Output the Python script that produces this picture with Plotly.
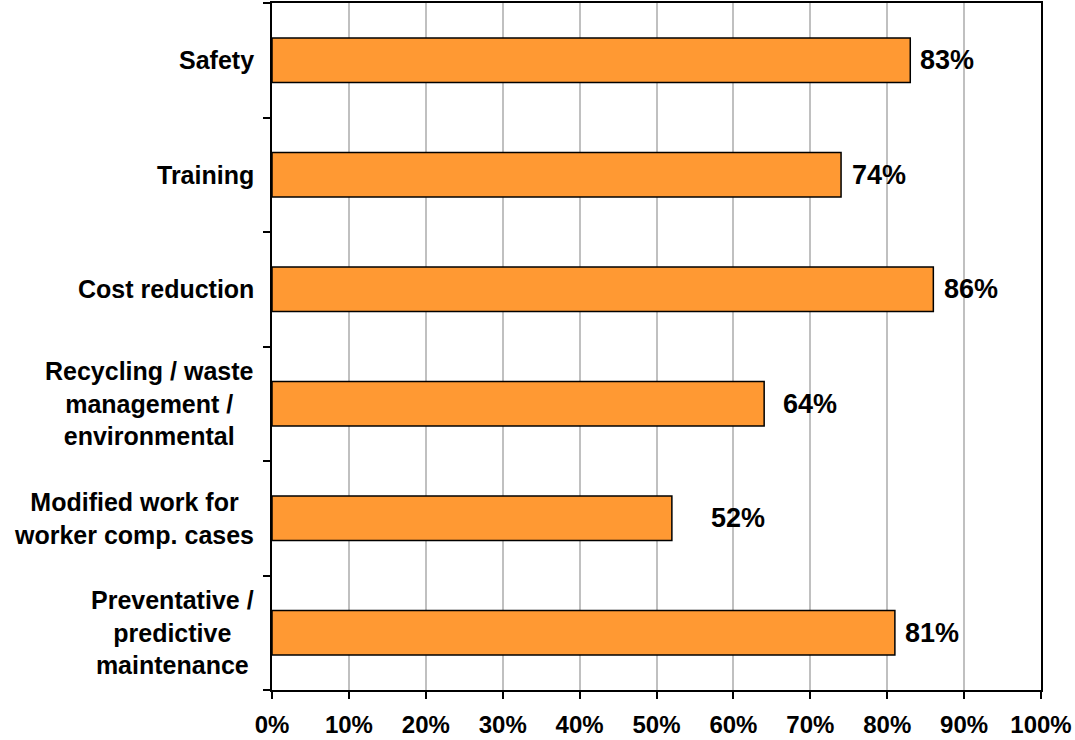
import plotly.graph_objects as go

categories = [
    "Safety",
    "Training",
    "Cost reduction",
    "Recycling / waste<br>management /<br>environmental",
    "Modified work for<br>worker comp. cases",
    "Preventative /<br>predictive<br>maintenance",
]
values = [83, 74, 86, 64, 52, 81]
value_labels = ["83%", "74%", "86%", "64%", "52%", "81%"]
x_ticks = [0, 10, 20, 30, 40, 50, 60, 70, 80, 90, 100]
x_tick_labels = ["0%", "10%", "20%", "30%", "40%", "50%", "60%", "70%", "80%", "90%", "100%"]

# label gaps (px) from the bar end, as placed in the original
label_gaps = [8, 9, 9, 17, 37, 8]

FONT = "Liberation Sans, Arial, sans-serif"

fig = go.Figure()
fig.add_trace(go.Bar(
    x=values,
    y=list(range(len(categories))),
    orientation="h",
    width=0.39,
    marker=dict(color="#FF9933", line=dict(color="#000000", width=1.5)),
    hoverinfo="skip",
))

annotations = []
for i, (cat, v, lab, gap) in enumerate(zip(categories, values, value_labels, label_gaps)):
    annotations.append(dict(
        x=v, y=i, xref="x", yref="y", text="<b>%s</b>" % lab, showarrow=False,
        xanchor="left", yanchor="middle", xshift=gap,
        font=dict(family=FONT, size=27, color="#000000"),
    ))
    annotations.append(dict(
        x=0, y=i, xref="paper", yref="y", text="<b>%s</b>" % cat, showarrow=False,
        xanchor="right", yanchor="middle", align="center", xshift=-16,
        font=dict(family=FONT, size=25, color="#000000"),
    ))

fig.update_layout(
    width=1075, height=740,
    margin=dict(l=272, r=34, t=3, b=50, autoexpand=False),
    paper_bgcolor="#FFFFFF",
    plot_bgcolor="#FFFFFF",
    showlegend=False,
    annotations=annotations,
    xaxis=dict(
        range=[0, 100],
        tickmode="array",
        tickvals=x_ticks,
        ticktext=["<b>%s</b>" % t for t in x_tick_labels],
        tickfont=dict(family=FONT, size=24, color="#000000"),
        showgrid=True, gridcolor="#C0C0C0", gridwidth=1.5,
        zeroline=False,
        showline=True, linecolor="#000000", linewidth=2, mirror=True,
        ticks="outside", ticklen=7, tickwidth=2, tickcolor="#000000",
        ticklabelstandoff=5,
        automargin=False,
        fixedrange=True,
    ),
    yaxis=dict(
        range=[len(categories) - 0.5, -0.5],
        tickmode="array",
        tickvals=[i + 0.5 for i in range(-1, len(categories))],
        ticktext=[""] * (len(categories) + 1),
        showgrid=False, zeroline=False,
        showline=True, linecolor="#000000", linewidth=2, mirror=True,
        ticks="outside", ticklen=7, tickwidth=2, tickcolor="#000000",
        automargin=False,
        fixedrange=True,
    ),
)

fig.write_html(
    "out.html",
    config={"displayModeBar": False},
    post_script="document.body.style.margin='0';document.body.style.overflow='hidden';",
)
